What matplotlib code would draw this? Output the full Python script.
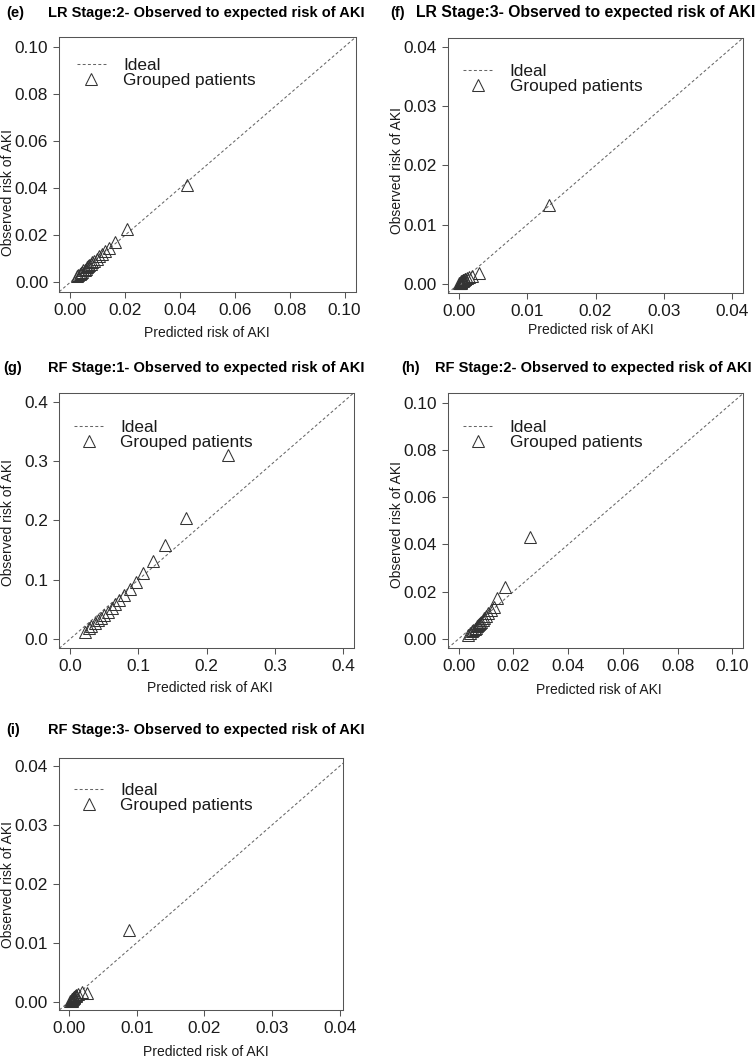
import matplotlib
matplotlib.use("Agg")
import matplotlib.pyplot as plt
from matplotlib.ticker import FormatStrFormatter

plt.rcParams['font.family'] = ['Liberation Sans', 'DejaVu Sans']

# ---------------- data ----------------
e_pred = [0.0025, 0.0030, 0.0035, 0.0040, 0.0044, 0.0048, 0.0052, 0.0056, 0.0060, 0.0065,
          0.0070, 0.0075, 0.0081, 0.0088, 0.0096, 0.0105, 0.0116, 0.0128, 0.0140, 0.0164,
          0.0208, 0.0425]
e_obs = [0.0026, 0.0031, 0.0036, 0.0040, 0.0045, 0.0050, 0.0054, 0.0058, 0.0063, 0.0068,
         0.0073, 0.0079, 0.0085, 0.0092, 0.0100, 0.0110, 0.0120, 0.0133, 0.0147, 0.0173,
         0.0226, 0.0415]

f_pred = [0.0001, 0.0002, 0.0002, 0.0003, 0.0003, 0.0004, 0.0004, 0.0005, 0.0005, 0.0006,
          0.0006, 0.0007, 0.0008, 0.0009, 0.0010, 0.0012, 0.0015, 0.0019, 0.0030, 0.0132]
f_obs = [0.0001, 0.0001, 0.0002, 0.0002, 0.0003, 0.0003, 0.0004, 0.0004, 0.0005, 0.0005,
         0.0006, 0.0006, 0.0007, 0.0008, 0.0009, 0.0010, 0.0012, 0.0014, 0.0019, 0.0134]

g_pred = [0.022, 0.027, 0.031, 0.036, 0.040, 0.045, 0.050, 0.056, 0.061, 0.066,
          0.072, 0.079, 0.087, 0.097, 0.107, 0.121, 0.139, 0.169, 0.231]
g_obs = [0.011, 0.018, 0.022, 0.027, 0.032, 0.036, 0.041, 0.046, 0.052, 0.059,
         0.066, 0.074, 0.084, 0.096, 0.112, 0.132, 0.158, 0.205, 0.311]

h_pred = [0.0035, 0.0042, 0.0048, 0.0053, 0.0058, 0.0062, 0.0066, 0.0070, 0.0074, 0.0078,
          0.0083, 0.0088, 0.0094, 0.0100, 0.0108, 0.0117, 0.0128, 0.0140, 0.0168, 0.0259]
h_obs = [0.0017, 0.0025, 0.0032, 0.0037, 0.0043, 0.0048, 0.0053, 0.0057, 0.0062, 0.0067,
         0.0073, 0.0080, 0.0087, 0.0095, 0.0110, 0.0122, 0.0135, 0.0172, 0.0219, 0.0431]

i_pred = [0.0002, 0.0003, 0.0004, 0.0004, 0.0005, 0.0005, 0.0006, 0.0006, 0.0007, 0.0007,
          0.0008, 0.0009, 0.0010, 0.0011, 0.0014, 0.0019, 0.0027, 0.0089]
i_obs = [0.0001, 0.0002, 0.0002, 0.0003, 0.0004, 0.0005, 0.0005, 0.0006, 0.0007, 0.0008,
         0.0008, 0.0009, 0.0010, 0.0011, 0.0013, 0.0017, 0.0015, 0.0122]

panel_letters = ['(e)', '(f)', '(g)', '(h)', '(i)']
panel_titles = ['LR Stage:2- Observed to expected risk of AKI',
                'LR Stage:3- Observed to expected risk of AKI',
                'RF Stage:1- Observed to expected risk of AKI',
                'RF Stage:2- Observed to expected risk of AKI',
                'RF Stage:3- Observed to expected risk of AKI']
ticks_01 = [0.00, 0.02, 0.04, 0.06, 0.08, 0.10]
ticks_004 = [0.00, 0.01, 0.02, 0.03, 0.04]
ticks_04 = [0.0, 0.1, 0.2, 0.3, 0.4]
xlabel_text = 'Predicted risk of AKI'
ylabel_text = 'Observed risk of AKI'
legend_labels = ['Ideal', 'Grouped patients']

# ---------------- layout (pixels) ----------------
W, H = 755, 1059
fig = plt.figure(figsize=(W / 100, H / 100), dpi=100)


def fx(x):
    return x / W


def fy(y):
    return 1 - y / H


panels = [
    dict(x=e_pred, y=e_obs, box=(59.3, 355.5, 37.3, 291.7), ticks=ticks_01, fmt='%.2f',
         xlim=(-0.004, 0.104), ylim=(-0.004, 0.104), title=(206, 13), letter=(15, 13),
         xl=(206.7, 332.7), yl=(8, 192), leg=(76.7, 73.3), tsize=10.5),
    dict(x=f_pred, y=f_obs, box=(447.7, 743.3, 37.7, 293.3), ticks=ticks_004, fmt='%.2f',
         xlim=(-0.0016, 0.0416), ylim=(-0.0016, 0.0416), title=(586, 13), letter=(398, 13),
         xl=(590.7, 330), yl=(397, 170), leg=(463.3, 79), tsize=11.3),
    dict(x=g_pred, y=g_obs, box=(59.3, 354, 392.7, 648.3), ticks=ticks_04, fmt='%.1f',
         xlim=(-0.016, 0.416), ylim=(-0.016, 0.416), title=(206, 368.3), letter=(13, 368.3),
         xl=(210, 688.3), yl=(8, 522), leg=(74, 435), tsize=10.5),
    dict(x=h_pred, y=h_obs, box=(447.7, 743.3, 393.3, 648.3), ticks=ticks_01, fmt='%.2f',
         xlim=(-0.004, 0.104), ylim=(-0.004, 0.104), title=(593, 368.3), letter=(410.8, 368.3),
         xl=(599, 690), yl=(397, 524), leg=(463, 435), tsize=10.5),
    dict(x=i_pred, y=i_obs, box=(58.7, 343.3, 757.7, 1010), ticks=ticks_004, fmt='%.2f',
         xlim=(-0.0015, 0.0405), ylim=(-0.0014, 0.0414), title=(206, 730), letter=(13.3, 730),
         xl=(206, 1051.7), yl=(8, 885), leg=(74, 797.8), tsize=10.5),
]

box_col = '#555555'
txt_col = '#1a1a1a'
mk_col = '#333333'

for k, p in enumerate(panels):
    l, r, t, b = p['box']
    ax = fig.add_axes([fx(l), fy(b), (r - l) / W, (b - t) / H])
    ax.axline((0, 0), slope=1, color='#666666', lw=0.75, linestyle=(0, (2.8, 2.2)),
              label=legend_labels[0])
    ax.plot(p['x'], p['y'], linestyle='none', marker='^', markersize=8.3,
            markerfacecolor='none', markeredgecolor=mk_col, markeredgewidth=0.75,
            label=legend_labels[1])
    ax.set_xlim(*p['xlim'])
    ax.set_ylim(*p['ylim'])
    ax.set_xticks(p['ticks'])
    ax.set_yticks(p['ticks'])
    ax.xaxis.set_major_formatter(FormatStrFormatter(p['fmt']))
    ax.yaxis.set_major_formatter(FormatStrFormatter(p['fmt']))
    ax.tick_params(direction='out', length=4.5, width=0.75, color=box_col,
                   labelsize=12.4, labelcolor=txt_col, pad=3.5)
    for s in ax.spines.values():
        s.set_color(box_col)
        s.set_linewidth(0.75)

    lx, ly = p['leg']
    ax.legend(loc='center left', bbox_to_anchor=(fx(lx), fy(ly)),
              bbox_transform=fig.transFigure, frameon=False, fontsize=12.4,
              handlelength=1.7, handletextpad=1.0, labelspacing=0.0,
              borderpad=0, borderaxespad=0, labelcolor=txt_col)

    fig.text(fx(p['title'][0]), fy(p['title'][1]), panel_titles[k], ha='center', va='center',
             fontsize=p['tsize'], fontweight='bold', color='black')
    fig.text(fx(p['letter'][0]), fy(p['letter'][1]), panel_letters[k], ha='center', va='center',
             fontsize=10.5, fontweight='bold', color='black')
    fig.text(fx(p['xl'][0]), fy(p['xl'][1]), xlabel_text, ha='center', va='center',
             fontsize=10, color=txt_col)
    fig.text(fx(p['yl'][0]), fy(p['yl'][1]), ylabel_text, ha='center', va='center',
             fontsize=10, color=txt_col, rotation=90)

fig.savefig('out.png', dpi=100, facecolor='white')
